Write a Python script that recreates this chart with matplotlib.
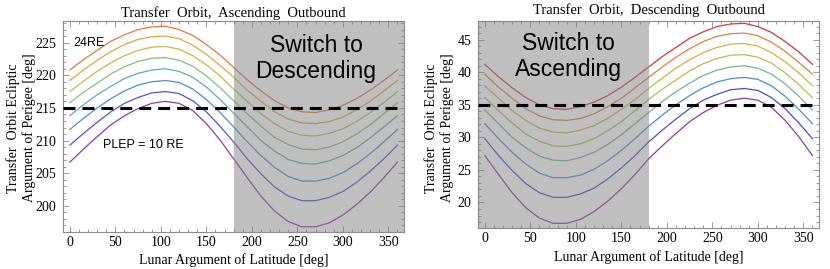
import numpy as np
import matplotlib
matplotlib.use("Agg")
import matplotlib.pyplot as plt
from matplotlib.ticker import MultipleLocator

# Lunar argument of latitude samples [deg]
lunar_lat = [0, 15, 30, 45, 60, 75, 90, 105, 120, 135, 150, 165, 180,
             195, 210, 225, 240, 255, 270, 285, 300, 315, 330, 345, 360]

# Ascending outbound: perigee argument [deg], PLEP = 24 RE (top) ... 10 RE (bottom)
asc_24 = [220.8, 222.4, 223.8, 225.2, 226.2, 227.0, 227.4, 227.5, 227.0, 226.1, 224.7, 223.1, 221.2,
          219.3, 217.6, 216.1, 215.0, 214.4, 214.3, 214.7, 215.4, 216.4, 217.7, 219.2, 220.8]
asc_22 = [219.2, 220.8, 222.3, 223.6, 224.7, 225.5, 225.9, 226.0, 225.6, 224.6, 223.2, 221.5, 219.7,
          217.7, 216.0, 214.4, 213.3, 212.7, 212.6, 212.9, 213.6, 214.7, 216.0, 217.6, 219.2]
asc_20 = [217.5, 219.1, 220.6, 221.9, 223.0, 223.8, 224.3, 224.4, 224.0, 223.0, 221.6, 219.9, 217.9,
          216.0, 214.1, 212.6, 211.4, 210.8, 210.7, 211.1, 211.8, 212.9, 214.3, 215.8, 217.5]
asc_18 = [215.8, 217.4, 218.8, 220.2, 221.3, 222.1, 222.6, 222.7, 222.3, 221.4, 219.9, 218.1, 216.1,
          214.1, 212.2, 210.5, 209.4, 208.7, 208.6, 209.0, 209.8, 211.0, 212.4, 214.1, 215.8]
asc_16 = [213.8, 215.5, 217.0, 218.3, 219.5, 220.3, 220.8, 221.0, 220.6, 219.7, 218.2, 216.3, 214.2,
          212.1, 210.0, 208.4, 207.1, 206.5, 206.4, 206.9, 207.7, 208.9, 210.4, 212.1, 213.8]
asc_14 = [211.7, 213.4, 215.0, 216.4, 217.6, 218.5, 219.0, 219.2, 218.9, 217.9, 216.3, 214.3, 212.1,
          209.8, 207.7, 205.9, 204.5, 203.8, 203.8, 204.2, 205.1, 206.4, 208.0, 209.8, 211.7]
asc_12 = [209.3, 211.1, 212.8, 214.4, 215.7, 216.6, 217.3, 217.5, 217.2, 216.1, 214.4, 212.2, 209.8,
          207.2, 204.9, 202.9, 201.5, 200.8, 200.8, 201.3, 202.2, 203.6, 205.3, 207.2, 209.3]
asc_10 = [206.7, 208.7, 210.6, 212.4, 213.8, 214.9, 215.7, 216.0, 215.7, 214.6, 212.6, 210.1, 207.2,
          204.3, 201.5, 199.2, 197.6, 196.8, 196.8, 197.4, 198.6, 200.2, 202.1, 204.3, 206.7]

# Descending outbound
desc_24 = [41.2, 39.3, 37.6, 36.1, 35.0, 34.4, 34.3, 34.7, 35.4, 36.4, 37.7, 39.2, 40.8,
           42.4, 43.8, 45.2, 46.2, 47.0, 47.4, 47.5, 47.0, 46.1, 44.7, 43.1, 41.2]
desc_22 = [39.7, 37.7, 36.0, 34.4, 33.3, 32.7, 32.6, 32.9, 33.6, 34.7, 36.0, 37.6, 39.2,
           40.8, 42.3, 43.6, 44.7, 45.5, 45.9, 46.0, 45.6, 44.6, 43.2, 41.5, 39.7]
desc_20 = [37.9, 36.0, 34.1, 32.6, 31.4, 30.8, 30.7, 31.1, 31.8, 32.9, 34.3, 35.8, 37.5,
           39.1, 40.6, 41.9, 43.0, 43.8, 44.3, 44.4, 44.0, 43.0, 41.6, 39.9, 37.9]
desc_18 = [36.1, 34.1, 32.2, 30.5, 29.4, 28.7, 28.6, 29.0, 29.8, 31.0, 32.4, 34.1, 35.8,
           37.4, 38.8, 40.2, 41.3, 42.1, 42.6, 42.7, 42.3, 41.4, 39.9, 38.1, 36.1]
desc_16 = [34.2, 32.1, 30.0, 28.4, 27.1, 26.5, 26.4, 26.9, 27.7, 28.9, 30.4, 32.1, 33.8,
           35.5, 37.0, 38.3, 39.5, 40.3, 40.8, 41.0, 40.6, 39.7, 38.2, 36.3, 34.2]
desc_14 = [32.1, 29.8, 27.7, 25.9, 24.5, 23.8, 23.8, 24.2, 25.1, 26.4, 28.0, 29.8, 31.7,
           33.4, 35.0, 36.4, 37.6, 38.5, 39.0, 39.2, 38.9, 37.9, 36.3, 34.3, 32.1]
desc_12 = [29.8, 27.2, 24.9, 22.9, 21.5, 20.8, 20.8, 21.3, 22.2, 23.6, 25.3, 27.2, 29.3,
           31.1, 32.8, 34.4, 35.7, 36.6, 37.3, 37.5, 37.2, 36.1, 34.4, 32.2, 29.8]
desc_10 = [27.2, 24.3, 21.5, 19.2, 17.6, 16.8, 16.8, 17.4, 18.6, 20.2, 22.1, 24.3, 26.7,
           28.7, 30.6, 32.4, 33.8, 34.9, 35.7, 36.0, 35.7, 34.6, 32.6, 30.1, 27.2]

asc_curves = [asc_24, asc_22, asc_20, asc_18, asc_16, asc_14, asc_12, asc_10]
desc_curves = [desc_24, desc_22, desc_20, desc_18, desc_16, desc_14, desc_12, desc_10]

asc_colors = ["#e8793a", "#e0a83c", "#b9c04c", "#86c07a", "#5fb0b0", "#4c8ed8", "#5552d2", "#8b3ca6"]
desc_colors = ["#d8373a", "#e5803e", "#d9b13f", "#afc052", "#72b88e", "#4a90d5", "#4b4bd0", "#8b3ca6"]

asc_limit = 215.0
desc_limit = 35.0
switch_lat = 180

plt.rcParams["font.family"] = ["Liberation Serif", "DejaVu Serif"]
frame_col = "#8c8c8c"

fig = plt.figure(figsize=(8.3, 2.69), dpi=100)
ax1 = fig.add_axes([63.3/830, 1 - 231.7/269, 340.7/830, 211/269])
ax2 = fig.add_axes([478.3/830, 1 - 227.7/269, 340.7/830, 207/269])


def style(ax, ylo, yhi):
    ax.set_xlim(-7.2, 367.2)
    ax.set_ylim(ylo, yhi)
    ax.xaxis.set_major_locator(MultipleLocator(50))
    ax.xaxis.set_minor_locator(MultipleLocator(10))
    ax.yaxis.set_major_locator(MultipleLocator(5))
    ax.yaxis.set_minor_locator(MultipleLocator(1))
    ax.tick_params(which="both", direction="in", top=True, right=True,
                   color=frame_col, labelsize=10, width=0.6)
    ax.tick_params(which="major", length=4)
    ax.tick_params(which="minor", length=2)
    ax.tick_params(axis="x", pad=3)
    ax.tick_params(axis="y", pad=5)
    for s in ax.spines.values():
        s.set_color(frame_col)
        s.set_linewidth(0.8)


style(ax1, 196.05, 228.35)
style(ax2, 16.13, 47.9)

for vals, c in zip(asc_curves, asc_colors):
    ax1.plot(lunar_lat, vals, color=c, lw=0.9, zorder=2)
for vals, c in zip(desc_curves, desc_colors):
    ax2.plot(lunar_lat, vals, color=c, lw=0.9, zorder=2)

ax1.axvspan(switch_lat, 367.2, color="0.5", alpha=0.5, lw=0, zorder=3)
ax2.axvspan(-7.2, switch_lat, color="0.5", alpha=0.5, lw=0, zorder=3)

ax1.axhline(asc_limit, color="black", lw=2.2, dashes=(3.9, 2.3), zorder=4)
ax2.axhline(desc_limit, color="black", lw=2.2, dashes=(3.9, 2.3), zorder=4)

ax1.text(3.8, 225.0, "24RE", family="Liberation Sans", fontsize=9, va="center", zorder=5)
ax1.text(36.8, 209.3, "PLEP = 10 RE", family="Liberation Sans", fontsize=9, va="center", zorder=5)
ax1.text(270.5, 222.6, "Switch to\nDescending", family="Liberation Sans", fontsize=16.5,
         ha="center", va="center", linespacing=1.15, zorder=5)
ax2.text(91.7, 42.4, "Switch to\nAscending", family="Liberation Sans", fontsize=16.5,
         ha="center", va="center", linespacing=1.15, zorder=5)

ylab = "Transfer  Orbit Ecliptic\nArgument of Perigee [deg]"
xlab = "Lunar Argument of Latitude [deg]"
fig.text(233.7/830, 1 - 13/269, "Transfer  Orbit,  Ascending  Outbound", fontsize=10.5,
         ha="center", va="center")
fig.text(648.7/830, 1 - 10/269, "Transfer  Orbit,  Descending  Outbound", fontsize=10.5,
         ha="center", va="center")
fig.text(21.5/830, 1 - 128/269, ylab, fontsize=10, rotation=90, ha="center", va="center",
         multialignment="center", linespacing=1.2)
fig.text(439.5/830, 1 - 128/269, ylab, fontsize=10, rotation=90, ha="center", va="center",
         multialignment="center", linespacing=1.2)
fig.text(233.7/830, 1 - 260/269, xlab, fontsize=10, ha="center", va="center")
fig.text(648.7/830, 1 - 257/269, xlab, fontsize=10, ha="center", va="center")

fig.savefig("out.png", dpi=100)
